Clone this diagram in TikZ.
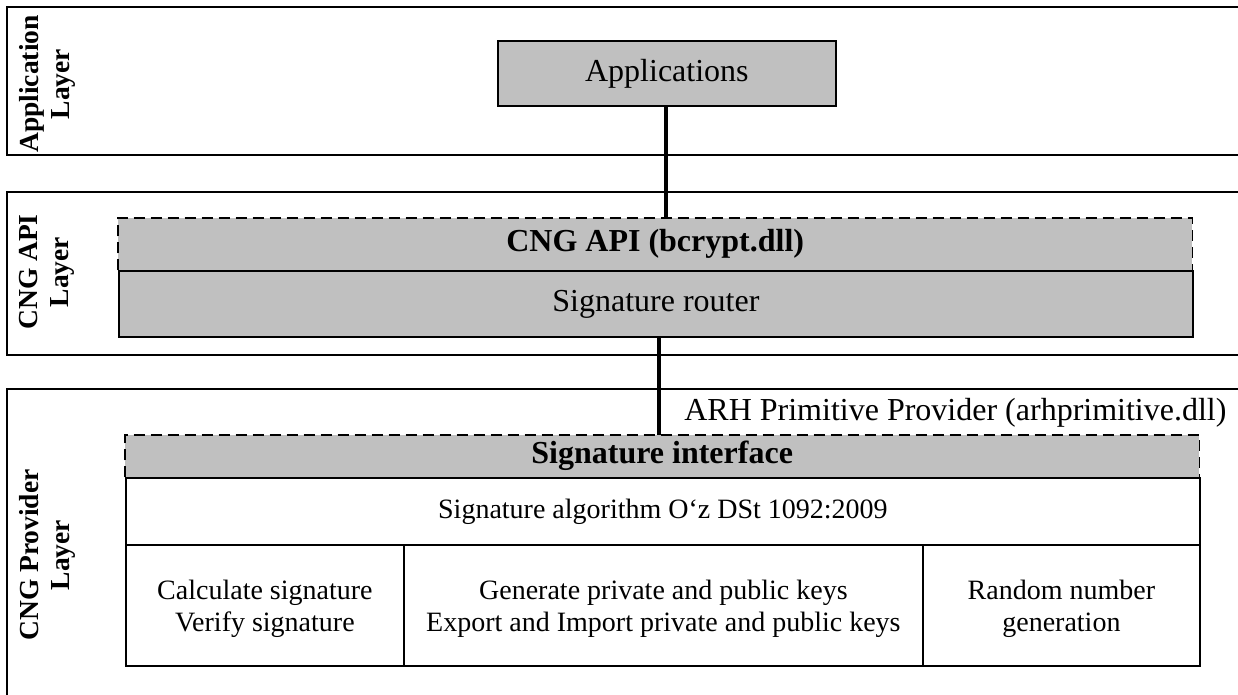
\documentclass[tikz,border=0pt]{standalone}
\usepackage{fontspec}
\setmainfont{Liberation Serif}
\begin{document}
\begin{tikzpicture}[x=1pt,y=-1pt,
  layerline/.style={line width=2pt},
  boxline/.style={line width=1.8pt},
  dashline/.style={line width=1.8pt, dash pattern=on 11pt off 6pt},
  conn/.style={line width=3.2pt},
  graybox/.style={fill=gray75, inner sep=0pt},
  whitebox/.style={draw, line width=1.8pt, fill=white, inner sep=0pt},
  bigtext/.style={font=\fontsize{32}{37}\selectfont},
  bigbold/.style={font=\fontsize{32}{37}\selectfont\bfseries},
  smalltext/.style={font=\fontsize{28}{32}\selectfont, align=center},
  layerlabel/.style={rotate=90, align=center, font=\fontsize{27.5}{31}\selectfont\bfseries},
]
\definecolor{gray75}{HTML}{C0C0C0}
\useasboundingbox (0,0) rectangle (1238,694);
\begin{scope}
\clip (0,0) rectangle (1238,694);
% layer boxes (open to the right)
\draw[layerline] (1260,7) -- (7,7) -- (7,155) -- (1260,155);
\draw[layerline] (1260,192) -- (7,192) -- (7,355) -- (1260,355);
\draw[layerline] (1260,389) -- (7,389) -- (7,720) -- (1260,720);
\end{scope}
\node[layerlabel] (lapp) at (47,84) {Application\\Layer};
\node[layerlabel] (lapi) at (47,272) {CNG API\\Layer};
\node[layerlabel] (lprov) at (47,555) {CNG Provider\\Layer};

% Applications
\node[graybox, draw, boxline, minimum width=338pt, minimum height=65pt, anchor=north west] (app) at (497,40) {};
\node[bigtext] (apptext) at (app.center) {Applications};

% CNG API
\node[graybox, minimum width=1074pt, minimum height=52pt, anchor=north west] (api) at (118,218) {};
\node[bigbold] (apitext) at (api.center) {CNG API (bcrypt.dll)};
\draw[dashline] (api.south west) -- (api.north west) -- (api.north east) -- (api.south east);
\node[graybox, draw, boxline, minimum width=1074pt, minimum height=66pt, anchor=north west] (router) at (118,270) {};
\node[bigtext] (routertext) at (router.center) {Signature router};

% Provider
\node[bigtext, anchor=east] (arh) at (1230,413) {ARH Primitive Provider (arhprimitive.dll)};
\node[graybox, minimum width=1074pt, minimum height=42pt, anchor=north west] (sigif) at (125,435) {};
\node[bigbold] (sigiftext) at (sigif.center) {Signature interface};
\draw[dashline] (sigif.south west) -- (sigif.north west) -- (sigif.north east) -- (sigif.south east);
\node[whitebox, minimum width=1074pt, minimum height=67pt, anchor=north west] (algo) at (125,477) {};
\node[smalltext] (algotext) at (algo.center) {Signature algorithm O‘z DSt 1092:2009};
\node[whitebox, minimum width=278pt, minimum height=121pt, anchor=north west] (calc) at (125,544) {};
\node[whitebox, minimum width=519pt, minimum height=121pt, anchor=north west] (keys) at (403,544) {};
\node[whitebox, minimum width=277pt, minimum height=121pt, anchor=north west] (rng) at (922,544) {};
\node[smalltext] (calctext) at ([yshift=-3pt]calc.center) {Calculate signature\\Verify signature};
\node[smalltext] (keystext) at ([yshift=-3pt]keys.center) {Generate private and public keys\\Export and Import private and public keys};
\node[smalltext] (rngtext) at ([yshift=-3pt]rng.center) {Random number\\generation};

% connectors
\coordinate (c1) at (666,0);
\coordinate (c2) at (659,0);
\draw[conn] (c1 |- app.south) -- (c1 |- api.north);
\draw[conn] (c2 |- router.south) -- (c2 |- sigif.north);
\end{tikzpicture}
\end{document}
